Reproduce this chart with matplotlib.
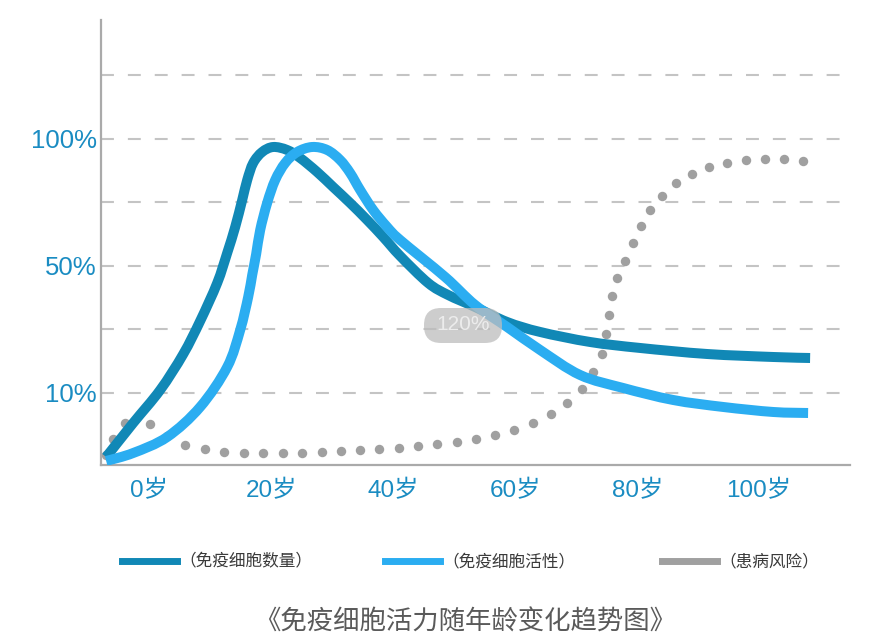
import matplotlib
matplotlib.use("Agg")
import numpy as np
import matplotlib.pyplot as plt
from matplotlib.lines import Line2D
from matplotlib.patches import FancyBboxPatch, PathPatch
from matplotlib.path import Path
from matplotlib.transforms import IdentityTransform

# ---------------- data (age in years, value in grid levels) ----------------
count_age = [-7.05, -2.62, 1.80, 5.57, 8.36, 11.15, 12.79, 14.10, 15.25, 16.07,
             17.05, 18.52, 20.33, 22.62, 24.75, 27.54, 30.16, 32.95, 35.74, 38.36,
             41.15, 45.74, 49.02, 53.44, 58.69, 64.10, 72.30, 80.49, 91.48, 102.30,
             108.36]
count_val = [-0.008, 0.528, 1.047, 1.610, 2.134, 2.732, 3.205, 3.614, 4.039, 4.354,
             4.622, 4.795, 4.874, 4.827, 4.701, 4.480, 4.244, 3.992, 3.724, 3.457,
             3.157, 2.732, 2.543, 2.354, 2.118, 1.961, 1.803, 1.709, 1.614, 1.567,
             1.551]

activity_age = [-7.05, -2.62, 2.95, 8.36, 12.79, 14.92, 16.23, 16.89, 17.54, 18.20,
                19.34, 20.66, 22.30, 24.26, 26.72, 29.18, 31.31, 32.95, 34.59, 36.72,
                39.02, 41.15, 48.52, 53.44, 58.69, 64.10, 70.66, 77.70, 85.90, 94.10,
                102.30, 108.03]
activity_val = [-0.071, 0.055, 0.307, 0.780, 1.409, 1.992, 2.512, 2.858, 3.189, 3.567,
                3.992, 4.354, 4.622, 4.795, 4.874, 4.827, 4.669, 4.465, 4.197, 3.882,
                3.614, 3.409, 2.827, 2.386, 2.039, 1.677, 1.283, 1.079, 0.890, 0.780,
                0.701, 0.685]

risk_age = [-7.05, -5.90, -3.93, 0.16, 2.95, 5.90, 9.18, 12.30, 15.57, 18.69,
            21.97, 25.08, 28.36, 31.48, 34.59, 37.70, 40.98, 44.10, 47.21, 50.49,
            53.61, 56.72, 59.84, 62.95, 65.90, 68.52, 70.98, 72.79, 74.26, 74.92,
            75.41, 75.90, 76.72, 78.03, 79.34, 80.66, 82.13, 84.10, 86.39, 89.02,
            91.80, 94.75, 97.87, 100.98, 104.10, 107.21]
risk_val = [0.024, 0.276, 0.528, 0.512, 0.323, 0.181, 0.118, 0.071, 0.055, 0.055,
            0.055, 0.055, 0.071, 0.087, 0.102, 0.118, 0.134, 0.165, 0.197, 0.228,
            0.276, 0.339, 0.417, 0.528, 0.669, 0.843, 1.063, 1.331, 1.614, 1.929,
            2.228, 2.528, 2.811, 3.079, 3.362, 3.630, 3.882, 4.102, 4.307, 4.449,
            4.559, 4.622, 4.669, 4.685, 4.685, 4.654]

x_ticks = [0, 20, 40, 60, 80, 100]
x_tick_labels = ["0岁", "20岁", "40岁", "60岁", "80岁", "100岁"]
y_ticks = [1, 3, 5]
y_tick_labels = ["10%", "50%", "100%"]
grid_levels = [1, 2, 3, 4, 5, 6]

series_names = ["（免疫细胞数量）", "（免疫细胞活性）", "（患病风险）"]
title = "《免疫细胞活力随年龄变化趋势图》"

# ---------------- style ----------------
C_COUNT = "#1188b6"
C_ACT = "#2badf1"
C_RISK = "#a0a0a0"
C_TICK = "#1a8cc2"
CJK = ["Noto Sans CJK SC", "DejaVu Sans"]
NUM = ["Liberation Sans", "Noto Sans CJK SC"]


def smooth_path(xs, ys):
    """Catmull-Rom curve through the given points, as cubic Bezier path."""
    p = np.column_stack([xs, ys]).astype(float)
    n = len(p)
    verts = [p[0]]
    codes = [Path.MOVETO]
    for i in range(n - 1):
        p0 = p[i - 1] if i > 0 else p[i]
        p1, p2 = p[i], p[i + 1]
        p3 = p[i + 2] if i + 2 < n else p[i + 1]
        c1 = p1 + (p2 - p0) / 6.0
        c2 = p2 - (p3 - p1) / 6.0
        verts += [c1, c2, p2]
        codes += [Path.CURVE4] * 3
    return Path(verts, codes)


fig = plt.figure(figsize=(8.86, 6.41), dpi=100)
fig.patch.set_facecolor("white")
ax = fig.add_axes([101 / 886, 1 - 465 / 641, (850 - 101) / 886, (465 - 20) / 641])
ax.set_xlim(-7.9, 114.9)
ax.set_ylim(-0.134, 6.874)

for g in grid_levels:
    ax.axhline(g, color="#c4c4c4", lw=1.5, dashes=(6.2, 6.7), zorder=1)

ax.plot(risk_age, risk_val, linestyle="none", marker="o", ms=6.8,
        color=C_RISK, mec="none", zorder=2)
for xs, ys, col, z in [(count_age, count_val, C_COUNT, 3),
                       (activity_age, activity_val, C_ACT, 4)]:
    patch = PathPatch(smooth_path(xs, ys), facecolor="none", edgecolor=col,
                      lw=7.2, capstyle="butt", joinstyle="round",
                      transform=ax.transData, zorder=z)
    ax.add_patch(patch)

for s in ["top", "right"]:
    ax.spines[s].set_visible(False)
for s in ["left", "bottom"]:
    ax.spines[s].set_color("#aaaaaa")
    ax.spines[s].set_linewidth(1.6)

ax.set_xticks(x_ticks)
ax.set_xticklabels(x_tick_labels, family=NUM, fontsize=17.5, color=C_TICK)
ax.set_yticks(y_ticks)
ax.set_yticklabels(y_tick_labels, family=NUM, fontsize=18.5, color=C_TICK)
ax.tick_params(axis="x", length=0, pad=11)
ax.tick_params(axis="y", length=0, pad=3)

# legends (three separate entries)
handles = [Line2D([], [], color=C_COUNT, lw=5),
           Line2D([], [], color=C_ACT, lw=5),
           Line2D([], [], color=C_RISK, lw=5)]
leg_x = [122, 385, 662]
for h, name, lx in zip(handles, series_names, leg_x):
    lg = fig.legend(handles=[h], labels=[name], loc="center left",
                    bbox_to_anchor=(lx / 886, 1 - 562 / 641), frameon=False,
                    borderpad=0, borderaxespad=0, handlelength=3.3,
                    handletextpad=0.15, prop={"family": CJK, "size": 12})
    for t in lg.get_texts():
        t.set_color("#3a3a3a")

fig.text(465 / 886, 1 - 622 / 641, title, ha="center", va="center",
         family=CJK, fontsize=19, color="#5a5a5a")

# zoom badge overlay seen in the reference
badge = FancyBboxPatch((424, 641 - 343), 78, 35,
                       boxstyle="round,pad=0,rounding_size=17",
                       transform=IdentityTransform(), facecolor="#bdbdbd",
                       edgecolor="none", alpha=0.75, zorder=10)
fig.add_artist(badge)
fig.text(463 / 886, 1 - 325 / 641, "120%", ha="center", va="center",
         family=NUM, fontsize=15, color="#ececec", zorder=11)

fig.savefig("out.png", dpi=100)
